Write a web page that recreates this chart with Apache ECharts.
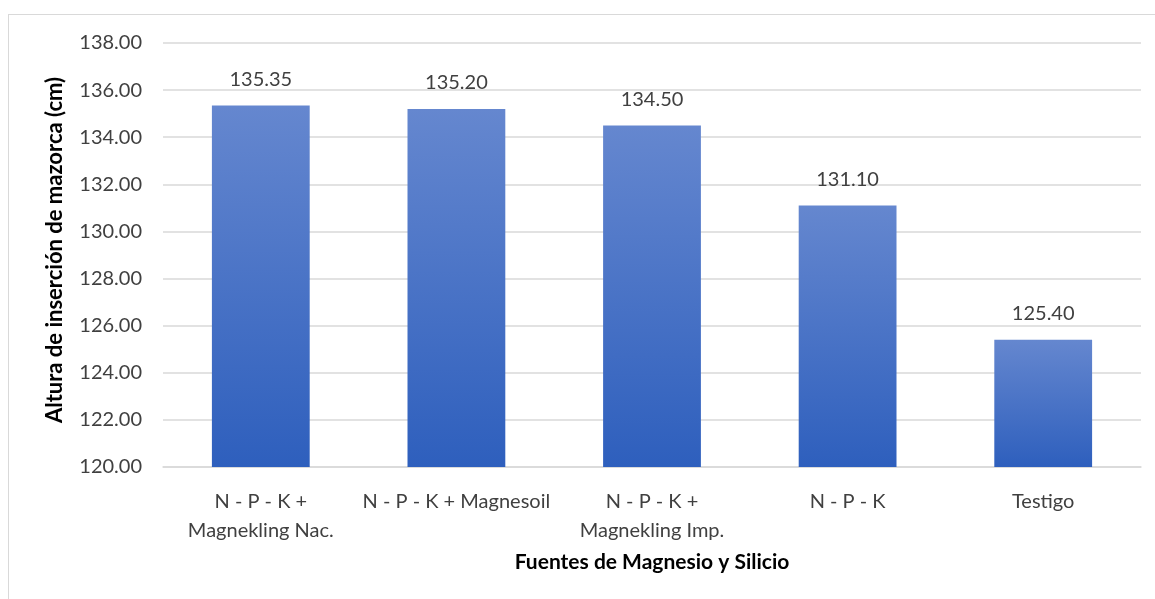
<!DOCTYPE html>
<html><head><meta charset="utf-8">
<script src="https://cdn.jsdelivr.net/npm/echarts@6/dist/echarts.min.js"></script>
<style>
html,body{margin:0;padding:0;background:#fff;}
#frame{position:absolute;left:8px;top:14px;width:1160px;height:600px;border:1px solid #d9d9d9;box-sizing:border-box;}
#main{position:absolute;left:0;top:0;width:1155px;height:599px;}
</style></head>
<body>
<div id="frame"></div>
<div id="main"></div>
<script>
const categories = ["N - P - K +\nMagnekling Nac.", "N - P - K + Magnesoil", "N - P - K +\nMagnekling Imp.", "N - P - K", "Testigo"];
const values = [135.35, 135.20, 134.50, 131.10, 125.40];
const yMin = 120, yMax = 138, yStep = 2;
const xName = "Fuentes de Magnesio y Silicio";
const yName = "Altura de inserción de mazorca (cm)";

const chart = echarts.init(document.getElementById('main'), null, {renderer:'canvas'});
const font = 'Lato, "Open Sans", sans-serif';
chart.setOption({
  animation:false,
  grid:{left:163, right:14, top:43, bottom:132, containLabel:false},
  xAxis:{
    type:'category', data:categories,
    name:xName, nameLocation:'middle', nameGap:85,
    nameTextStyle:{fontFamily:font, fontSize:21, fontWeight:'bold', color:'#000'},
    axisLine:{show:true, lineStyle:{color:'#d9d9d9', width:1.5}},
    axisTick:{show:false},
    axisLabel:{fontFamily:font, fontSize:20, color:'#404040', margin:20, lineHeight:29, interval:0}
  },
  yAxis:{
    type:'value', min:yMin, max:yMax, interval:yStep,
    name:yName, nameLocation:'middle', nameGap:97,
    nameTextStyle:{fontFamily:font, fontSize:22, fontWeight:'bold', color:'#000', padding:[0,0,0,10]},
    axisLine:{show:false}, axisTick:{show:false},
    splitLine:{lineStyle:{color:'#d9d9d9', width:1.5}},
    axisLabel:{fontFamily:font, fontSize:20, color:'#404040', margin:21, formatter:v=>v.toFixed(2)}
  },
  series:[{
    type:'bar', data:values, barWidth:'50%',
    itemStyle:{color:new echarts.graphic.LinearGradient(0,0,0,1,[{offset:0,color:'#6587cf'},{offset:1,color:'#2e5fbd'}])},
    label:{show:true, position:'top', distance:16, fontFamily:font, fontSize:20, color:'#404040', formatter:p=>p.value.toFixed(2)}
  }]
});
</script>
</body></html>
